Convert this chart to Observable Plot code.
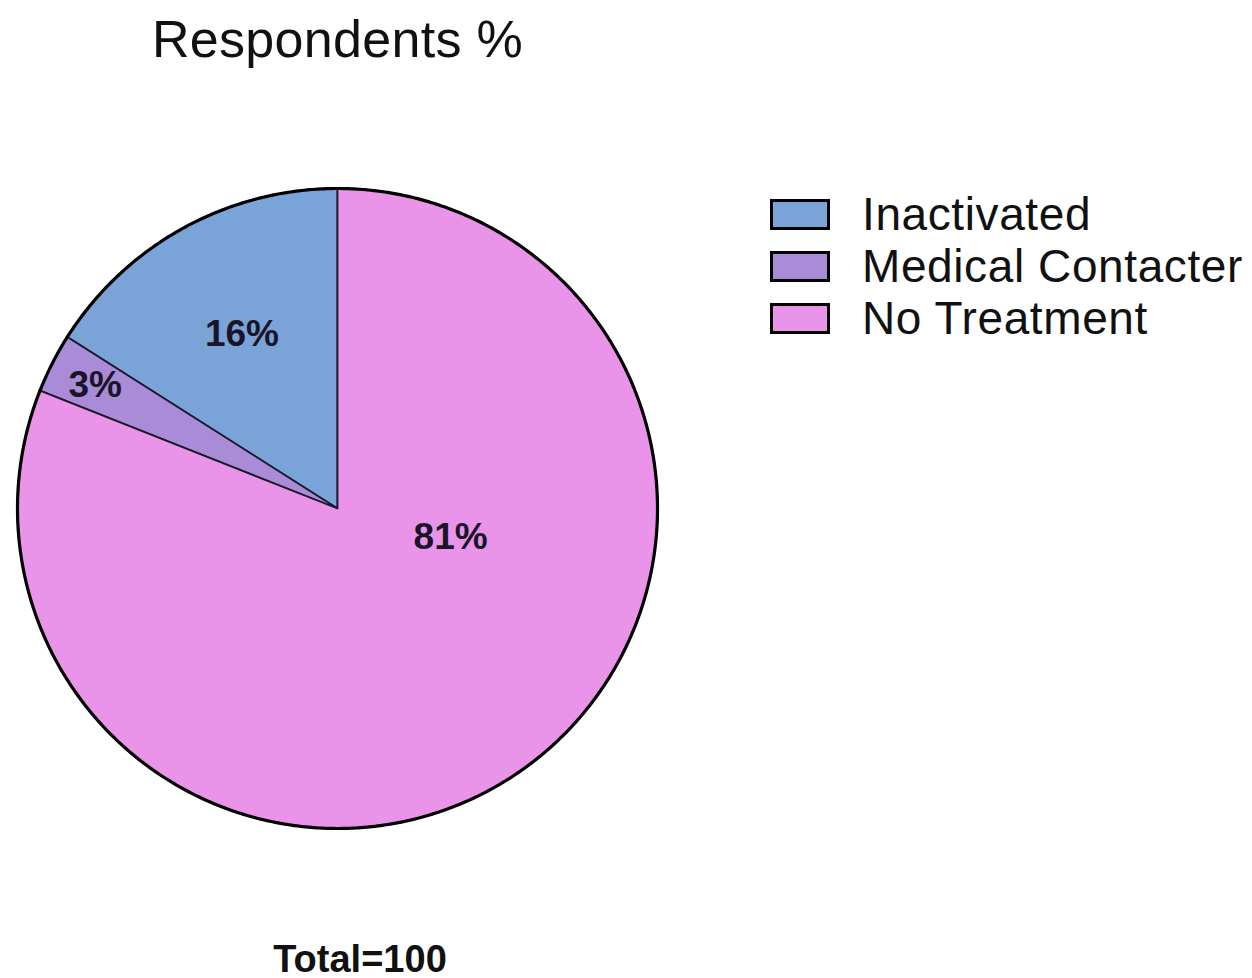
<!DOCTYPE html>
<html>
<head>
<meta charset="utf-8">
<script src="https://cdn.jsdelivr.net/npm/d3@7"></script>
<script src="https://cdn.jsdelivr.net/npm/@observablehq/plot@0.6"></script>
<style>
  html, body { margin: 0; padding: 0; background: #fff; }
  #wrap { position: relative; width: 1252px; height: 978px; font-family: "Liberation Sans", Arial, sans-serif; color: #111; }
  #title { position: absolute; left: 152px; top: 13px; font-size: 52px; line-height: 52px; white-space: nowrap; letter-spacing: 0.3px; }
  #chart { position: absolute; left: 0; top: 150px; }
  #legend { position: absolute; left: 770px; top: 188px; }
  .row { display: flex; align-items: center; height: 52px; }
  .sw { box-sizing: border-box; width: 60px; height: 31px; border: 3px solid #000; margin-right: 32px; }
  .lt { font-size: 46px; line-height: 52px; white-space: nowrap; letter-spacing: 0.6px; }
  #caption { position: absolute; left: 0; width: 720px; top: 940px; text-align: center; font-size: 38px; line-height: 38px; font-weight: bold; }
</style>
</head>
<body>
<div id="wrap">
  <div id="title">Respondents %</div>
  <div id="chart"></div>
  <div id="legend"></div>
  <div id="caption">Total=100</div>
</div>
<script>
// ---- data ----
const categories = ["Inactivated", "Medical Contacter", "No Treatment"];
const values = [16, 3, 81];
const valueLabels = ["16%", "3%", "81%"];
const colors = ["#7aa3d8", "#a98bd8", "#e994e8"];

// label placement (fraction of turn counter-clockwise from 12 o'clock, radius fraction)
const labelPlacement = [
  {turn: 0.08, r: 0.62},
  {turn: 0.175, r: 0.85},
  {turn: 0.71, r: 0.365}
];

// ---- geometry in data space (unit circle, counter-clockwise from top) ----
const total = d3.sum(values);
const pt = (turn, r) => ({x: -Math.sin(turn * 2 * Math.PI) * r, y: Math.cos(turn * 2 * Math.PI) * r});

let acc = 0;
const wedgePts = [];
const arcPts = [];
categories.forEach((c, i) => {
  const t0 = acc / total;
  const t1 = (acc + values[i]) / total;
  acc += values[i];
  const n = Math.max(4, Math.ceil((t1 - t0) * 720));
  wedgePts.push({category: c, ...pt(0, 0)});
  for (let k = 0; k <= n; k++) {
    const p = pt(t0 + (t1 - t0) * k / n, 1);
    wedgePts.push({category: c, ...p});
    arcPts.push({category: c, ...p});
  }
  wedgePts.push({category: c, ...pt(0, 0)});
});

const labelData = categories.map((c, i) => ({
  label: valueLabels[i],
  ...pt(labelPlacement[i].turn, labelPlacement[i].r)
}));

const chart = Plot.plot({
  width: 700,
  height: 720,
  margin: 0,
  x: {domain: [-1, 1], range: [17, 657], axis: null},
  y: {domain: [-1, 1], range: [678, 38], axis: null},
  color: {domain: categories, range: colors},
  marks: [
    Plot.line(wedgePts, {x: "x", y: "y", z: "category", fill: "category", stroke: "#1a1a2a", strokeWidth: 1.8, strokeLinejoin: "round"}),
    Plot.line(arcPts, {x: "x", y: "y", z: "category", stroke: "#000", strokeWidth: 3.2, strokeLinejoin: "round", strokeLinecap: "round"}),
    Plot.text(labelData, {x: "x", y: "y", text: "label", fontSize: 37, fontWeight: "bold", fill: "#1a1428", fontFamily: "Liberation Sans, Arial, sans-serif"})
  ]
});
document.getElementById("chart").appendChild(chart);

const legend = document.getElementById("legend");
categories.forEach((c, i) => {
  const row = document.createElement("div");
  row.className = "row";
  const sw = document.createElement("div");
  sw.className = "sw";
  sw.style.background = colors[i];
  const lt = document.createElement("div");
  lt.className = "lt";
  lt.textContent = c;
  row.appendChild(sw);
  row.appendChild(lt);
  legend.appendChild(row);
});
</script>
</body>
</html>
